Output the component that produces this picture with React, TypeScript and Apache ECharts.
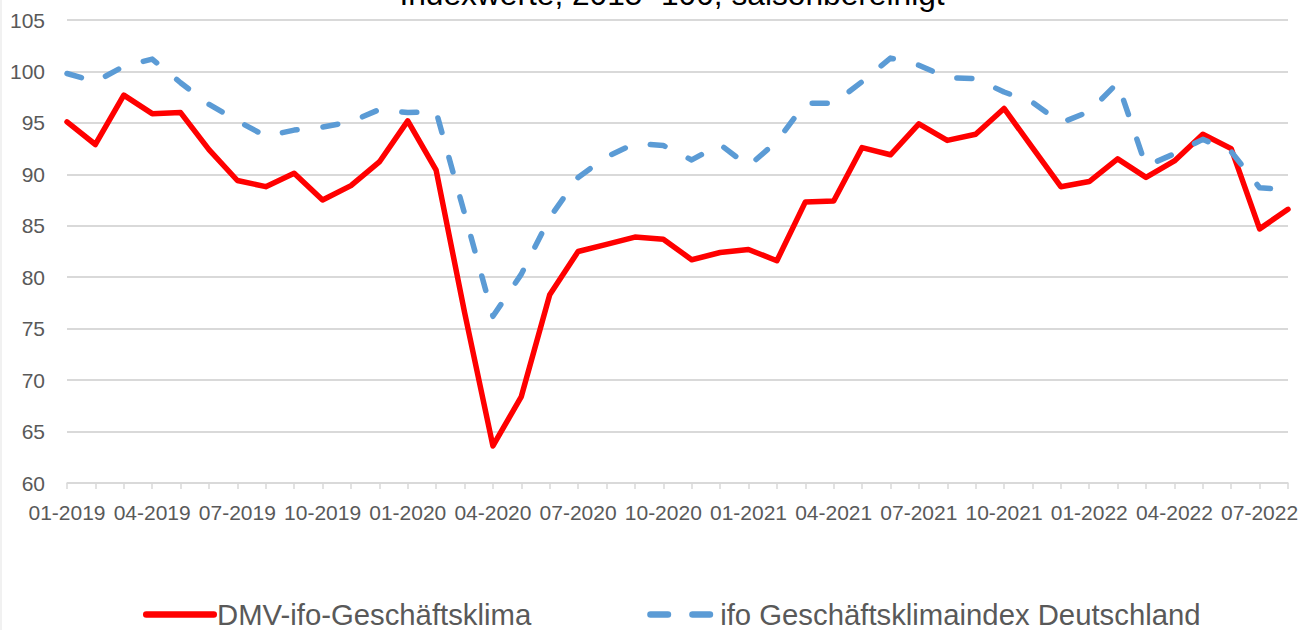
import React, { useEffect, useRef } from "react";
import * as echarts from "echarts";

const months: string[] = [
  "01-2019", "02-2019", "03-2019", "04-2019", "05-2019", "06-2019", "07-2019", "08-2019", "09-2019", "10-2019", "11-2019", "12-2019",
  "01-2020", "02-2020", "03-2020", "04-2020", "05-2020", "06-2020", "07-2020", "08-2020", "09-2020", "10-2020", "11-2020", "12-2020",
  "01-2021", "02-2021", "03-2021", "04-2021", "05-2021", "06-2021", "07-2021", "08-2021", "09-2021", "10-2021", "11-2021", "12-2021",
  "01-2022", "02-2022", "03-2022", "04-2022", "05-2022", "06-2022", "07-2022", "08-2022",
];

const dmvIfo: number[] = [
  95.1, 92.9, 97.7, 95.9, 96.0, 92.4, 89.4, 88.8, 90.1, 87.5, 88.9, 91.2,
  95.2, 90.4, 76.6, 63.6, 68.4, 78.3, 82.5, 83.2, 83.9, 83.7, 81.7, 82.4,
  82.7, 81.6, 87.3, 87.4, 92.6, 91.9, 94.9, 93.3, 93.9, 96.4, 92.6, 88.8,
  89.3, 91.5, 89.7, 91.3, 93.9, 92.5, 84.7, 86.6,
];

const ifoDeutschland: number[] = [
  99.8, 99.0, 100.5, 101.2, 98.9, 96.8, 95.2, 93.7, 94.3, 94.6, 95.1, 96.3,
  96.0, 96.1, 86.2, 76.2, 80.3, 85.8, 89.7, 91.7, 93.0, 92.8, 91.4, 92.9,
  90.8, 93.2, 96.9, 96.9, 99.0, 101.3, 100.6, 99.4, 99.3, 98.0, 97.0, 95.0,
  96.1, 98.9, 90.8, 92.0, 93.4, 92.2, 88.7, 88.5,
];

const seriesNames: string[] = ["DMV-ifo-Geschäftsklima", "ifo Geschäftsklimaindex Deutschland"];
const titleText = "Indexwerte, 2015=100, saisonbereinigt";

const FONT = "'Liberation Sans', Arial, sans-serif";

const redIcon =
  "path://M3.25,0 L70.75,0 A3.25,3.25 0 0 1 70.75,6.5 L3.25,6.5 A3.25,3.25 0 0 1 3.25,0 Z";
const blueIcon =
  "path://M0,3.2 L0.01,3.2 L0.01,3.21 L0,3.21 Z " +
  "M4.25,0 L21.75,0 A3.25,3.25 0 0 1 21.75,6.5 L4.25,6.5 A3.25,3.25 0 0 1 4.25,0 Z " +
  "M46.25,0 L63.75,0 A3.25,3.25 0 0 1 63.75,6.5 L46.25,6.5 A3.25,3.25 0 0 1 46.25,0 Z " +
  "M73.99,3.2 L74,3.2 L74,3.21 L73.99,3.21 Z";

export default function App() {
  const ref = useRef<HTMLDivElement>(null);

  useEffect(() => {
    document.body.style.margin = "0";
    if (!ref.current) return;
    const chart = echarts.init(ref.current, null, { renderer: "svg" });
    chart.setOption({
      animation: false,
      backgroundColor: "#ffffff",
      grid: {
        left: 67,
        right: 22,
        top: 20,
        bottom: 147,
        containLabel: false,
        outerBoundsMode: "none",
      },
      graphic: [
        {
          type: "text",
          x: 672,
          y: -6,
          style: {
            text: titleText,
            fontSize: 31.7,
            fontFamily: FONT,
            fill: "#000000",
            align: "center",
            verticalAlign: "middle",
          },
        },
        {
          type: "line",
          shape: { x1: 1, y1: 0, x2: 1, y2: 630 },
          style: { stroke: "#E3E3E3", lineWidth: 1 },
        },
      ],
      legend: {
        data: [
          { name: seriesNames[0], icon: redIcon, itemStyle: { color: "#FF0000" } },
          { name: seriesNames[1], icon: blueIcon, itemStyle: { color: "#5B9BD5" } },
        ],
        left: 138,
        top: 595,
        itemWidth: 74,
        itemHeight: 6.5,
        itemGap: 115,
        textStyle: { fontSize: 29.3, color: "#595959", fontFamily: FONT, padding: [0, 0, 0, -5] },
      },
      xAxis: {
        type: "category",
        data: months,
        boundaryGap: false,
        axisLine: { show: true, lineStyle: { color: "#D9D9D9", width: 1.5 } },
        axisTick: { show: true, interval: 0, length: 6, lineStyle: { color: "#D9D9D9", width: 1.5 } },
        axisLabel: {
          interval: 2,
          margin: 19,
          fontSize: 21,
          color: "#595959",
          fontFamily: FONT,
        },
        splitLine: { show: false },
      },
      yAxis: {
        type: "value",
        min: 60,
        max: 105,
        interval: 5,
        axisLine: { show: false },
        axisTick: { show: false },
        axisLabel: { margin: 22, fontSize: 21, color: "#595959", fontFamily: FONT },
        splitLine: { show: true, lineStyle: { color: "#D9D9D9", width: 1.8 } },
      },
      series: [
        {
          name: seriesNames[0],
          type: "line",
          data: dmvIfo,
          symbol: "none",
          showSymbol: false,
          lineStyle: { color: "#FF0000", width: 5.5, join: "round", cap: "round" },
          itemStyle: { color: "#FF0000" },
        },
        {
          name: seriesNames[1],
          type: "line",
          data: ifoDeutschland,
          symbol: "none",
          showSymbol: false,
          lineStyle: { color: "#5B9BD5", width: 5.5, type: [15, 26], cap: "round", join: "round" },
          itemStyle: { color: "#5B9BD5" },
        },
      ],
    });
    return () => chart.dispose();
  }, []);

  return (
    <div
      ref={ref}
      style={{ position: "fixed", left: 0, top: 0, width: 1310, height: 630, background: "#fff" }}
    />
  );
}
